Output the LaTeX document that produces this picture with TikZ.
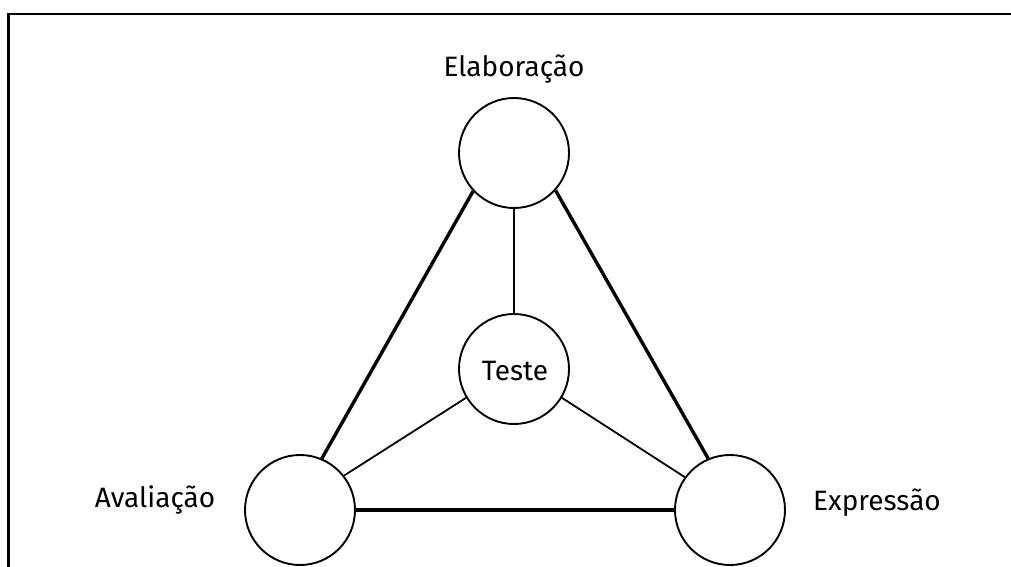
\documentclass[tikz,border=0pt]{standalone}
\usepackage{fontspec}
\setmainfont{Fira Sans}
\begin{document}
\begin{tikzpicture}[x=1pt,y=-1pt,
  vertex/.style={circle,draw=black,line width=1.9pt,minimum size=110pt,inner sep=0pt,fill=white},
  label text/.style={font=\fontsize{28}{31}\selectfont,text=black,inner sep=0pt,anchor=base},
  outer edge/.style={line width=3.4pt,black},
  inner edge/.style={line width=1.8pt,black}]
\useasboundingbox (0,0) rectangle (1011,567);
% frame (top and left sides)
\draw[line width=2.5pt] (1011,14) -- (8.5,14) -- (8.5,567);

% four stages
\node[vertex] (elab) at (514,153) {};
\node[vertex] (teste) at (514,369) {};
\node[vertex] (aval) at (300,510) {};
\node[vertex] (expr) at (730,510) {};

% stage names
\node[label text] (elabtxt) at (514,77) {Elaboração};
\node[label text] (testetxt) at (515,380) {Teste};
\node[label text] (avaltxt) at (155,507) {Avaliação};
\node[label text] (exprtxt) at (877,510) {Expressão};

% outer triangle
\draw[outer edge] (elab.223) -- (aval.67);
\draw[outer edge] (elab.318) -- (expr.113);
\draw[outer edge] (aval.east) -- (expr.west);

% spokes to the centre
\draw[inner edge] (elab.south) -- (teste.north);
\draw[inner edge] (teste.211) -- (aval.38);
\draw[inner edge] (teste.329) -- (expr.144);
\end{tikzpicture}
\end{document}
